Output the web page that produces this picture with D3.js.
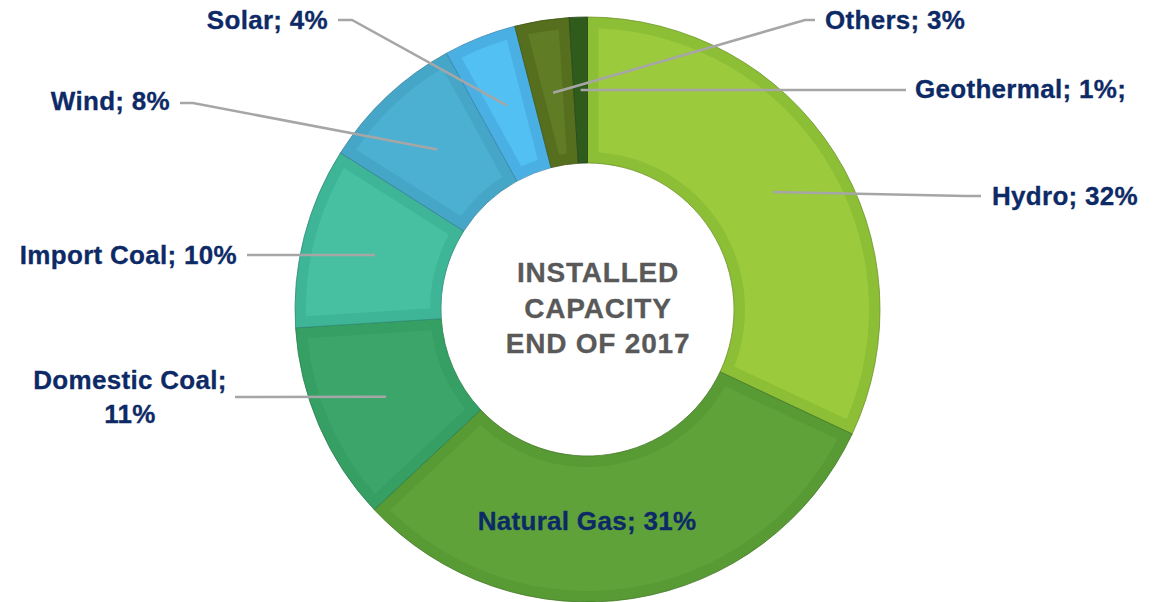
<!DOCTYPE html>
<html>
<head>
<meta charset="utf-8">
<script src="https://cdn.jsdelivr.net/npm/d3@7"></script>
<style>
  html, body { margin: 0; padding: 0; background: #ffffff; }
  svg { display: block; }
  text { font-family: "Liberation Sans", Arial, sans-serif; font-weight: bold; }
</style>
</head>
<body>
<svg id="chart" width="1157" height="602"></svg>
<script>
// ---- data ----
const categories = ["Hydro", "Natural Gas", "Domestic Coal", "Import Coal", "Wind", "Solar", "Others", "Geothermal"];
const values = [32, 31, 11, 10, 8, 4, 3, 1];
const labelLines = [
  ["Hydro; 32%"],
  ["Natural Gas; 31%"],
  ["Domestic Coal;", "11%"],
  ["Import Coal; 10%"],
  ["Wind; 8%"],
  ["Solar; 4%"],
  ["Others; 3%"],
  ["Geothermal; 1%;"]
];
const centerTitle = ["INSTALLED", "CAPACITY", "END OF 2017"];

// ---- styles ----
const fillColors = ["#9bca3c", "#5fa23a", "#3ca66a", "#46c0a1", "#4bb0d2", "#52c0f2", "#607c24", "#2f5b1d"];
const bandColors = ["#8cbe36", "#589a34", "#36a064", "#3eb597", "#45a6c8", "#4ab0e4", "#566f1e", "#2f5b1d"];

// ---- layout ----
const cx = 587.5, cy = 309.5, rOuter = 292.5, rInner = 146.5, band = 11;
const labelLayout = {
  "Hydro":         { pts: [[966, 196], [981, 196]], anchor: "start",  x: 992, y: 205 },
  "Natural Gas":   { pts: null,                      anchor: "middle", x: 587, y: 530 },
  "Domestic Coal": { pts: [[235, 397]],              anchor: "middle", x: 130, y: 389, dy: 34 },
  "Import Coal":   { pts: [[247, 255]],              anchor: "end",    x: 237, y: 264 },
  "Wind":          { pts: [[193, 103], [180, 103]],  anchor: "end",    x: 170, y: 110 },
  "Solar":         { pts: [[352, 20], [338, 20]],    anchor: "end",    x: 328, y: 29 },
  "Others":        { pts: [[805, 20], [815, 20]],    anchor: "start",  x: 825, y: 29 },
  "Geothermal":    { pts: [[906, 90]],               anchor: "start",  x: 915, y: 98 }
};

const svg = d3.select("#chart");
const g = svg.append("g").attr("transform", `translate(${cx},${cy})`);

const pie = d3.pie().sort(null).value(d => d.value).startAngle(0).endAngle(2 * Math.PI);
const data = categories.map((c, i) => ({ cat: c, value: values[i], i }));
const arcs = pie(data);

const arcOuter = d3.arc().innerRadius(rInner).outerRadius(rOuter);
const arcInset = d3.arc()
  .innerRadius(rInner + band)
  .outerRadius(rOuter - band)
  .padRadius(100)
  .padAngle(2 * Math.asin(band / 100));
const arcMid = d3.arc().innerRadius(rInner).outerRadius(rOuter);

const slices = g.selectAll("g.slice").data(arcs).enter().append("g").attr("class", "slice");
slices.append("path")
  .attr("d", arcOuter)
  .attr("fill", d => bandColors[d.data.i])
  .attr("stroke", d => d3.color(bandColors[d.data.i]).darker(0.7))
  .attr("stroke-width", 0.8);
slices.append("path")
  .attr("d", arcInset)
  .attr("fill", d => fillColors[d.data.i]);

// leader lines
const leaders = svg.append("g");
arcs.forEach(d => {
  const L = labelLayout[d.data.cat];
  if (!L.pts) return;
  const c = arcMid.centroid(d);
  const pts = [[c[0] + cx, c[1] + cy]].concat(L.pts);
  leaders.append("path")
    .attr("d", d3.line()(pts))
    .attr("fill", "none")
    .attr("stroke", "#a6a6a6")
    .attr("stroke-width", 2.5);
});

// labels
const labels = svg.append("g");
arcs.forEach(d => {
  const L = labelLayout[d.data.cat];
  const lines = labelLines[d.data.i];
  const t = labels.append("text")
    .attr("text-anchor", L.anchor)
    .attr("fill", "#0d2a66")
    .attr("stroke", "#0d2a66")
    .attr("stroke-width", 0.3)
    .attr("font-size", 26)
    .attr("letter-spacing", 0.3);
  lines.forEach((ln, k) => {
    t.append("tspan").attr("x", L.x).attr("y", L.y + k * (L.dy || 0)).text(ln);
  });
});

// center title
const title = svg.append("text")
  .attr("text-anchor", "middle")
  .attr("fill", "#595959")
  .attr("stroke", "#595959")
  .attr("stroke-width", 0.3)
  .attr("font-size", 28)
  .attr("letter-spacing", 0.8);
centerTitle.forEach((ln, k) => {
  title.append("tspan").attr("x", 598).attr("y", 282 + k * 35.5).text(ln);
});
</script>
</body>
</html>
